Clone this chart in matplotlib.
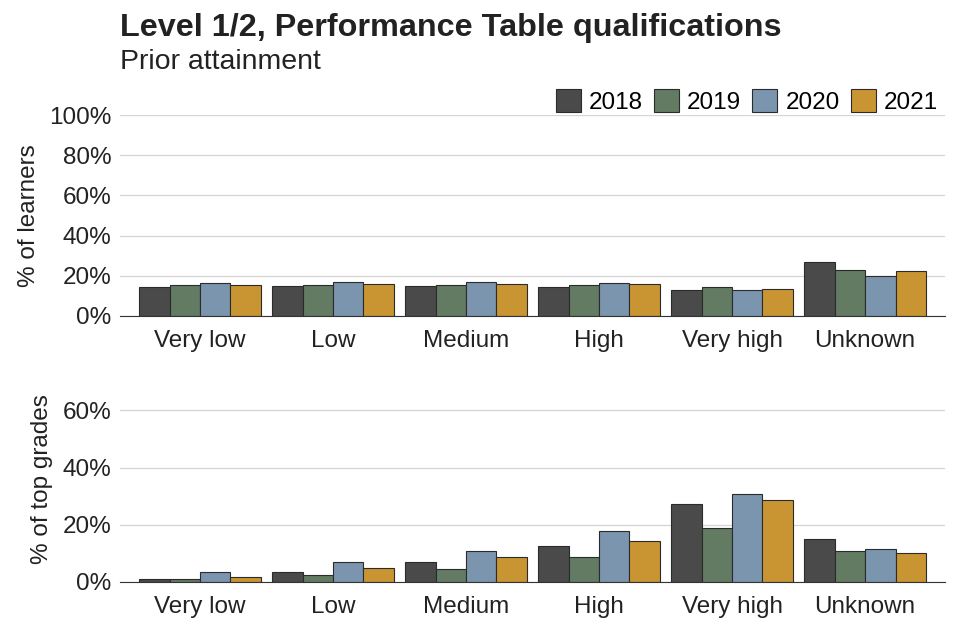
import numpy as np
import matplotlib
matplotlib.use("Agg")
from matplotlib import pyplot as plt
from matplotlib.ticker import PercentFormatter

plt.rcParams['font.family'] = ['Liberation Sans', 'DejaVu Sans']

categories = ['Very low', 'Low', 'Medium', 'High', 'Very high', 'Unknown']
years = ['2018', '2019', '2020', '2021']
colors = ['#4a4a4a', '#637b62', '#7b95af', '#c89532']

# % of learners
learners = {
    '2018': [14.5, 15.0, 14.8, 14.3, 12.7, 27.0],
    '2019': [15.3, 15.5, 15.5, 15.3, 14.3, 22.7],
    '2020': [16.3, 16.7, 16.8, 16.3, 12.7, 19.7],
    '2021': [15.2, 15.7, 16.0, 15.8, 13.2, 22.5],
}
# % of top grades
top_grades = {
    '2018': [1.2, 3.5, 7.1, 12.7, 27.2, 15.1],
    '2019': [1.0, 2.4, 4.7, 8.8, 18.8, 10.7],
    '2020': [3.5, 6.9, 10.8, 17.8, 30.7, 11.7],
    '2021': [1.9, 5.0, 8.8, 14.4, 28.5, 10.1],
}

fig = plt.figure(figsize=(9.6, 6.4), dpi=100)
ax1 = fig.add_axes([120/960, 1-316/640, 825/960, 201/640])
ax2 = fig.add_axes([120/960, 1-582/640, 825/960, 206/640])

x = np.arange(len(categories))
w = 0.228

def draw(ax, data, ymax, ticks, ylabel):
    for i, y in enumerate(years):
        ax.bar(x + (i - 1.5) * w, data[y], w, color=colors[i], edgecolor='#2b2b2b',
               linewidth=0.8, label=y, zorder=3)
    ax.set_xlim(-0.6, len(categories) - 0.4)
    ax.set_ylim(0, ymax)
    ax.set_yticks(ticks)
    ax.yaxis.set_major_formatter(PercentFormatter(decimals=0))
    ax.set_xticks(x)
    ax.set_xticklabels(categories)
    ax.tick_params(length=0, labelsize=17.5, colors='#222222', pad=10)
    ax.tick_params(axis='y', pad=6)
    ax.grid(axis='y', color='#d4d4d4', linewidth=0.9, zorder=0)
    for s in ['top', 'right', 'left']:
        ax.spines[s].set_visible(False)
    ax.spines['bottom'].set_color('#333333')
    ax.spines['bottom'].set_zorder(4)
    ax.set_ylabel(ylabel, fontsize=17.5, color='#222222', labelpad=7)

draw(ax1, learners, 100, [0, 20, 40, 60, 80, 100], '% of learners')
draw(ax2, top_grades, 72, [0, 20, 40, 60], '% of top grades')

fig.text(120/960, 1-28/640, 'Level 1/2, Performance Table qualifications', fontsize=23.3,
         fontweight='bold', color='#222222', va='center')
fig.text(120/960, 1-62/640, 'Prior attainment', fontsize=20.5, color='#222222', va='center')

ax1.legend(ncol=4, loc='lower right', bbox_to_anchor=(1.0, 0.97), frameon=False,
           fontsize=17.5, handlelength=1.03, handleheight=1.03, handletextpad=0.33,
           columnspacing=0.45, borderaxespad=0.1, borderpad=0.2)

fig.savefig('out.png', dpi=100)
